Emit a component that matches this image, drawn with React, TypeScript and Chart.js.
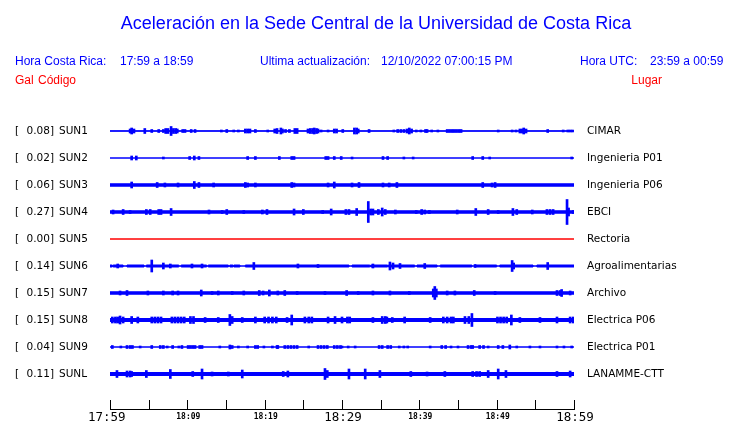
import React, { useEffect, useRef } from 'react';
import { Chart, registerables } from 'chart.js';

Chart.register(...registerables);

// ---------- header texts ----------
const TITLE = 'Aceleración en la Sede Central de la Universidad de Costa Rica';
const HEADER_BLUE: [string, number][] = [
  ['Hora Costa Rica:', 15],
  ['17:59 a 18:59', 120],
  ['Ultima actualización:', 260],
  ['12/10/2022 07:00:15 PM', 381],
  ['Hora UTC:', 580],
  ['23:59 a 00:59', 650],
];

// ---------- stations ----------
const CODES = ['SUN1', 'SUN2', 'SUN3', 'SUN4', 'SUN5', 'SUN6', 'SUN7', 'SUN8', 'SUN9', 'SUNL'];
const PLACES = ['CIMAR', 'Ingenieria P01', 'Ingenieria P06', 'EBCI', 'Rectoria', 'Agroalimentarias', 'Archivo', 'Electrica P06', 'Electrica P01', 'LANAMME-CTT'];
const PEAK_GAL = [0.08, 0.02, 0.06, 0.27, 0.0, 0.14, 0.15, 0.15, 0.04, 0.11];
// background noise level (counts) of each trace
const NOISE = [0.3, 0, 1.2, 1.2, 0, 1, 1.2, 1.5, 0, 1.5];
// quiet stretches of SUN6 [start, end] in minutes after 17:59
const QUIET_SUN6 = [[0.3, 0.4], [1.7, 2.2], [4.4, 4.7], [8.9, 9.2], [12.5, 12.7], [15.3, 15.5], [15.9, 16.0], [16.8, 17.5], [30.9, 31.3], [33.6, 33.7], [35.9, 36.0], [39.4, 39.7], [42.3, 42.7], [46.8, 47.2], [50.0, 50.4], [54.7, 55.2]];
const QUIET = [[], [], [], [], [], QUIET_SUN6, [], [], [], []];

// events: [minute after 17:59, half amplitude in counts]
const EV_SUN1 = [[2.6, 2], [2.8, 3], [3.1, 2], [4.5, 2.5], [5.4, 1.5], [6.3, 1.5], [6.9, 1.5], [7.2, 2.5], [7.5, 2.5], [7.9, 4.5], [8.2, 2.5], [8.5, 2.5], [8.7, 2], [9.4, 1.5], [9.7, 1.5], [10.5, 1.5], [11.0, 1.5], [14.4, 1], [15.1, 1.5], [16.0, 1], [16.6, 1], [17.5, 2], [17.8, 2], [18.1, 2], [18.8, 1.5], [20.4, 1], [21.3, 2], [21.6, 2.5], [22.1, 3], [22.3, 2], [22.7, 1.5], [23.2, 1.5], [23.9, 2.5], [24.2, 2.5], [25.6, 2], [25.9, 2.5], [26.2, 2.5], [26.4, 3], [26.7, 2.5], [26.9, 2], [27.3, 1], [28.2, 1], [29.0, 2], [29.3, 2], [30.1, 1.5], [31.6, 3], [31.9, 3], [32.1, 2], [33.5, 1.5], [36.7, 1], [37.2, 1.5], [37.6, 1.5], [38.0, 1.5], [38.4, 2], [38.7, 3], [39.0, 2], [39.6, 1], [40.2, 1], [40.8, 1.5], [41.0, 1.5], [41.6, 1], [42.4, 1], [43.6, 1.5], [43.9, 1.5], [44.2, 1.5], [44.5, 1.5], [44.8, 1.5], [45.1, 1.5], [45.4, 1.5], [50.2, 1], [52.0, 1], [52.5, 1], [53.0, 2], [53.3, 2], [53.5, 3], [53.8, 2], [56.6, 1.5], [58.6, 1], [59.2, 1], [59.5, 1], [59.8, 1]];
const EV_SUN2 = [[2.8, 2], [3.4, 2], [6.9, 1], [10.3, 1.5], [10.9, 2], [11.5, 1.5], [17.8, 1.5], [18.8, 1.5], [21.9, 1.5], [23.5, 1.5], [23.8, 1.5], [27.9, 1.5], [28.2, 1.5], [29.0, 1.5], [29.9, 1.5], [31.3, 1], [35.3, 1.5], [35.9, 1.5], [38.0, 1], [39.2, 1], [46.9, 1.5], [48.2, 1.5], [49.1, 1], [59.7, 1]];
const EV_SUN3 = [[2.8, 3], [6.1, 2.5], [7.1, 2], [8.8, 2], [10.9, 3.5], [11.5, 2.5], [13.4, 2], [17.5, 2.5], [17.8, 2], [18.8, 2], [23.5, 2.5], [23.8, 2], [28.2, 2], [29.0, 3], [31.3, 2], [32.2, 2.5], [35.3, 2], [36.1, 2], [37.1, 2.5], [48.2, 2.5], [49.4, 2], [49.8, 2.5]];
const EV_SUN4 = [[0.4, 2], [1.7, 2.5], [2.6, 1.5], [4.7, 2.5], [5.2, 2.5], [6.3, 2.5], [6.6, 2.5], [7.9, 3.5], [12.8, 2], [14.5, 1.5], [15.1, 2.5], [17.3, 1.5], [19.7, 2], [20.3, 2.5], [23.8, 3], [25.0, 2.5], [27.5, 1.5], [28.6, 3], [30.5, 2.5], [30.9, 2.5], [31.9, 3.5], [33.4, 10.5], [33.7, 3], [34.0, 3], [34.7, 2.5], [35.2, 4], [35.6, 2.5], [36.9, 2], [39.6, 1.5], [40.3, 2.5], [40.7, 2], [41.3, 1.5], [44.9, 2], [47.3, 3.5], [48.9, 2.5], [50.2, 1.5], [52.1, 3.5], [52.6, 2.5], [54.6, 2], [56.5, 2.5], [56.9, 2.5], [57.3, 2.5], [59.1, 12.5], [59.3, 4], [59.9, 1.5]];
const EV_SUN5: number[][] = [];
const EV_SUN6 = [[1.0, 2], [5.4, 6], [6.9, 3], [7.8, 2], [10.6, 2], [11.9, 2], [18.6, 3.5], [24.3, 2], [26.9, 1.5], [34.0, 2], [36.2, 4], [36.6, 3], [37.5, 2.5], [40.7, 2.5], [47.2, 1.5], [52.0, 5.5], [52.2, 3], [56.6, 3.5]];
const EV_SUN7 = [[1.3, 2], [2.2, 2.5], [4.9, 2], [6.9, 2], [8.1, 2], [8.8, 2], [11.8, 3], [13.2, 1.5], [14.0, 2], [15.8, 1.5], [17.3, 2], [19.3, 2.5], [19.8, 2], [20.6, 3], [21.7, 2], [22.6, 2.5], [24.2, 1.5], [27.8, 1.5], [30.6, 2.5], [32.1, 1.5], [34.0, 2], [36.2, 2], [38.7, 1.5], [41.8, 4], [42.0, 6.5], [42.2, 4], [43.6, 2], [44.6, 2], [47.1, 2.5], [49.8, 1.5], [57.8, 2.5], [58.2, 2.5], [58.4, 3.5], [59.5, 2]];
const EV_SUN8 = [[0.3, 3], [0.7, 3], [1.0, 3], [1.3, 4], [1.7, 3], [2.8, 3.5], [3.6, 3], [5.4, 3], [5.8, 3], [6.2, 3], [6.6, 3], [8.0, 3], [8.4, 3], [8.8, 3], [9.2, 3], [9.6, 3], [10.4, 3.5], [10.8, 3.5], [12.3, 2.5], [14.0, 2.5], [15.5, 5.5], [15.8, 3.5], [17.1, 2.5], [18.8, 3], [20.0, 3], [20.5, 3], [21.0, 3], [21.5, 3], [22.9, 2.5], [23.5, 5], [25.2, 3], [25.7, 3], [26.1, 3], [28.2, 3], [29.1, 3.5], [30.0, 3], [30.7, 3], [31.0, 3], [34.0, 2.5], [35.2, 3.5], [35.6, 3.5], [35.8, 3], [36.5, 2.5], [38.1, 3], [41.4, 2.5], [43.1, 3], [43.6, 3], [44.1, 3], [44.4, 3], [45.9, 3.5], [46.4, 3.5], [46.8, 6.5], [50.1, 3], [50.5, 3], [50.9, 3], [51.3, 3], [51.9, 5], [53.0, 2.5], [55.6, 2.5], [57.8, 3], [59.5, 3], [59.9, 3]];
const EV_SUN9 = [[0.3, 1.5], [1.4, 1], [2.2, 1.5], [2.6, 1.5], [2.9, 1.5], [3.9, 1], [5.4, 1.5], [6.5, 1.5], [6.9, 1.5], [7.4, 1], [8.1, 1.5], [8.9, 1], [9.3, 1.5], [10.1, 1.5], [10.4, 1.5], [10.7, 1.5], [11.0, 1.5], [11.6, 1.5], [11.9, 1.5], [14.2, 1], [15.5, 2], [15.8, 1.5], [16.6, 1], [17.8, 1], [18.8, 1.5], [19.1, 1.5], [19.9, 1], [21.0, 1], [21.6, 1.5], [21.7, 1.5], [22.6, 1.5], [23.0, 1.5], [23.4, 1.5], [23.8, 1.5], [24.2, 1.5], [25.7, 1], [26.9, 1.5], [27.3, 1.5], [27.7, 1.5], [28.1, 1.5], [29.0, 1.5], [29.4, 1.5], [29.8, 1.5], [30.0, 1], [30.8, 1], [31.7, 1], [34.8, 1.5], [35.2, 1.5], [35.9, 1.5], [36.3, 1.5], [37.4, 1], [38.0, 1], [38.5, 1], [41.4, 1], [42.9, 1.5], [43.4, 1.5], [44.1, 1], [45.0, 1], [46.3, 1.5], [46.7, 1.5], [46.9, 1.5], [47.8, 1.5], [48.3, 1.5], [48.9, 1], [50.2, 1.5], [50.8, 1.5], [51.7, 2], [52.6, 1], [54.3, 1], [55.6, 1], [57.8, 1], [58.7, 1], [59.7, 1]];
const EV_SUNL = [[0.9, 3.5], [2.2, 3], [2.6, 3], [2.8, 2.5], [4.7, 3.5], [7.8, 4.5], [10.7, 2.5], [11.9, 5], [13.2, 2], [15.3, 2], [17.1, 4], [22.4, 2.5], [23.0, 3], [27.8, 5.5], [28.1, 3.5], [30.9, 5], [33.0, 5], [34.9, 3.5], [38.9, 2.5], [41.0, 2], [43.3, 2.5], [46.9, 2.5], [47.4, 2.5], [47.8, 2.5], [48.9, 3.5], [50.2, 5], [51.2, 3.5], [57.8, 2.5], [59.5, 3]];
const EVENTS = [EV_SUN1, EV_SUN2, EV_SUN3, EV_SUN4, EV_SUN5, EV_SUN6, EV_SUN7, EV_SUN8, EV_SUN9, EV_SUNL];

// ---------- time axis ----------
const TIME_TICKS = [0, 5, 10, 15, 20, 25, 30, 35, 40, 45, 50, 55, 60];
const TIME_LABEL_AT = [0, 10, 20, 30, 40, 50, 60];
const TIME_LABELS = ['17:59', '18:09', '18:19', '18:29', '18:39', '18:49', '18:59'];
const MAJOR_LABELS = ['17:59', '18:29', '18:59'];

const SPACING = 27;
const Y_MIN = -8;
const Y_MAX = 298;

export default function App() {
  const ref = useRef<HTMLCanvasElement>(null);
  useEffect(() => {
    const canvas = ref.current;
    if (!canvas) return;
    const n = CODES.length;
    const datasets: any[] = [];
    CODES.forEach((code, i) => {
      const off = (n - i) * SPACING;
      const color = PEAK_GAL[i] === 0 ? '#ff0000' : '#0000ff';
      const nz = NOISE[i];
      const env = (sign: number) => {
        const pts: { x: number; y: number }[] = [{ x: 0, y: off + sign * nz }];
        QUIET[i].forEach(([a, b]) => {
          pts.push({ x: a, y: off });
          pts.push({ x: b, y: off + sign * nz });
        });
        pts.push({ x: 60, y: off + sign * nz });
        return pts;
      };
      datasets.push({
        type: 'line',
        data: env(1),
        stepped: true,
        borderColor: color,
        borderWidth: 1,
        pointRadius: 0,
        fill: false,
      });
      datasets.push({
        type: 'line',
        data: env(-1),
        stepped: true,
        borderColor: color,
        backgroundColor: color,
        borderWidth: 1,
        pointRadius: 0,
        fill: nz > 0 ? '-1' : false,
      });
      datasets.push({
        type: 'bar',
        data: EVENTS[i].map(([m, a]) => ({ x: m, y: [off - a, off + a] })),
        backgroundColor: color,
        borderWidth: 0,
        barThickness: 2,
        grouped: false,
      });
    });

    const textPlugin = {
      id: 'texts',
      afterDraw(chart: any) {
        const c = chart.ctx as CanvasRenderingContext2D;
        const xs = chart.scales.x;
        const ys = chart.scales.y;
        c.save();
        c.textBaseline = 'alphabetic';
        c.fillStyle = '#0000ff';
        c.font = '18px "Liberation Sans", Arial, sans-serif';
        c.textAlign = 'center';
        c.fillText(TITLE, 376, 29);
        c.font = '12px "Liberation Sans", Arial, sans-serif';
        c.textAlign = 'left';
        HEADER_BLUE.forEach(([t, x]) => c.fillText(t, x, 65));
        c.fillStyle = '#ff0000';
        c.fillText('Gal', 15, 84);
        c.fillText('Código', 38, 84);
        c.textAlign = 'right';
        c.fillText('Lugar', 662, 84);

        // station labels
        c.fillStyle = '#000000';
        c.font = '10.5px "DejaVu Sans", sans-serif';
        c.textBaseline = 'middle';
        CODES.forEach((code, i) => {
          const y = ys.getPixelForValue((n - i) * SPACING) + 0.5;
          c.textAlign = 'left';
          c.fillText('[', 15, y);
          c.textAlign = 'right';
          c.fillText(PEAK_GAL[i].toFixed(2) + ']', 54, y);
          c.textAlign = 'left';
          c.fillText(code, 59, y);
          c.fillText(PLACES[i], 587, y);
        });

        // time axis
        const axisY = chart.chartArea.bottom;
        c.strokeStyle = '#000000';
        c.lineWidth = 1;
        c.beginPath();
        c.moveTo(xs.getPixelForValue(0), axisY + 0.5);
        c.lineTo(xs.getPixelForValue(60) + 1, axisY + 0.5);
        TIME_TICKS.forEach((t) => {
          const x = Math.round(xs.getPixelForValue(t)) + 0.5;
          c.moveTo(x, axisY - 9);
          c.lineTo(x, axisY);
        });
        c.stroke();
        c.fillStyle = '#000000';
        c.textBaseline = 'alphabetic';
        TIME_LABEL_AT.forEach((t, k) => {
          const label = TIME_LABELS[k];
          const major = MAJOR_LABELS.includes(label);
          const x = xs.getPixelForValue(t);
          if (major) {
            c.font = '12.5px "DejaVu Sans Mono", monospace';
            c.textAlign = k === 0 ? 'left' : 'center';
            c.fillText(label, k === 0 ? 88 : x + 1, 421);
          } else {
            c.font = 'bold 8px "DejaVu Sans Mono", monospace';
            c.textAlign = 'center';
            c.fillText(label, x + 1, 418.5);
          }
        });
        c.restore();
      },
    };

    const chart = new Chart(canvas, {
      type: 'bar',
      data: { datasets },
      options: {
        responsive: false,
        animation: false,
        devicePixelRatio: 1,
        layout: { padding: { left: 110, right: 166, top: 103, bottom: 14 } },
        plugins: { legend: { display: false }, tooltip: { enabled: false } },
        scales: {
          x: { type: 'linear', min: 0, max: 60, display: false, offset: false },
          y: { type: 'linear', min: Y_MIN, max: Y_MAX, display: false },
        },
      } as any,
      plugins: [textPlugin],
    });
    return () => chart.destroy();
  }, []);

  return (
    <div style={{ position: 'absolute', left: 0, top: 0, width: 740, height: 423, background: '#fff' }}>
      <canvas ref={ref} width={740} height={423} style={{ width: 740, height: 423, display: 'block' }} />
    </div>
  );
}
